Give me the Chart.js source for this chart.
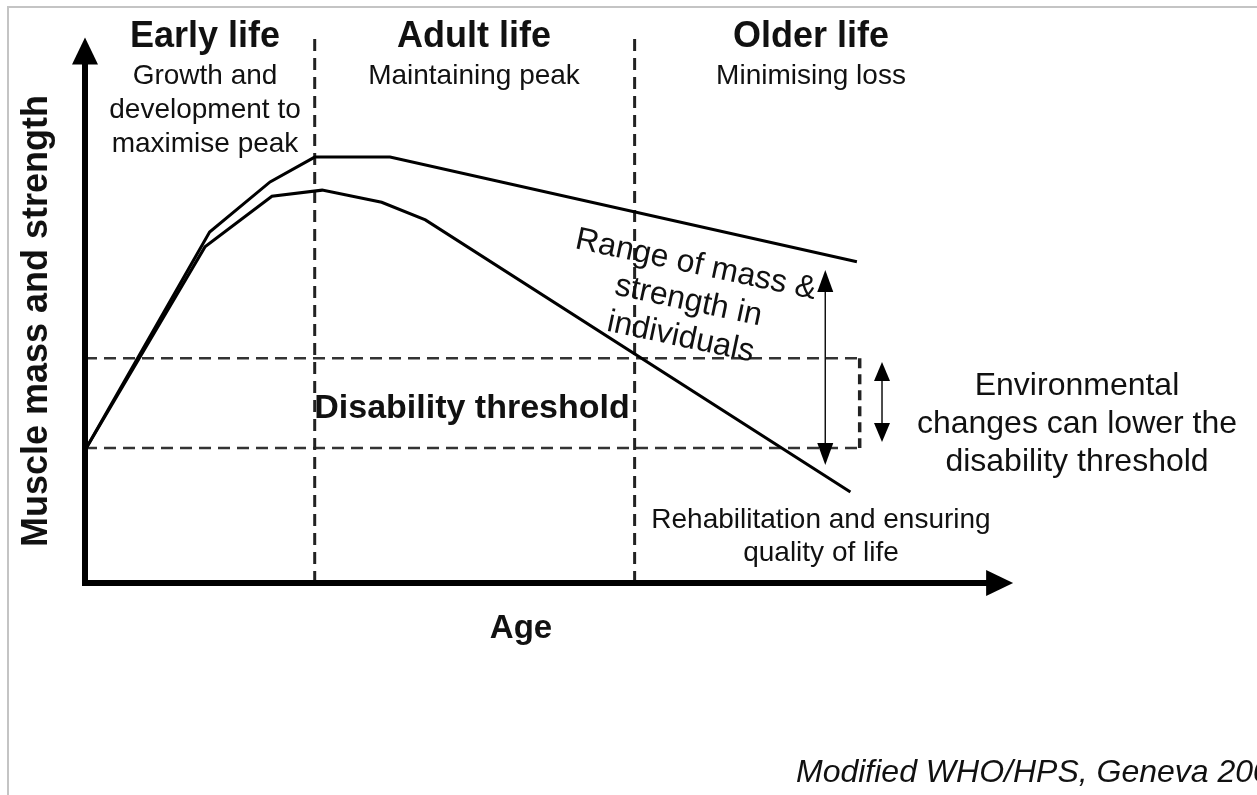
<!DOCTYPE html>
<html>
<head>
<meta charset="utf-8">
<script src="https://cdn.jsdelivr.net/npm/chart.js@4"></script>
<style>
  html, body { margin: 0; padding: 0; background: #fff; }
  canvas { display: block; }
</style>
</head>
<body>
<canvas id="chart" width="1257" height="795"></canvas>
<script>
// Age runs 0..100 along x, muscle mass & strength 0..100 up y (arbitrary units)
const upperAge = [0, 13.4, 19.9, 24.7, 32.8, 83.0];
const upperMass = [24.1, 63.7, 72.8, 77.3, 77.3, 58.3];
const lowerAge = [0, 12.9, 20.1, 25.5, 31.9, 36.6, 82.3];
const lowerMass = [24.1, 61.0, 70.2, 71.3, 69.1, 65.9, 16.5];

// stage boundaries (age) and disability threshold levels (mass)
const stageBounds = [24.7, 59.1];
const thresholdLevels = [40.8, 24.5];
const thresholdEnd = 83.3;

// double arrows: [age, from mass, to mass]
const rangeArrow = [79.6, 56.8, 21.4];
const envArrow = [85.7, 40.1, 25.6];

const stages = [
  { title: "Early life", lines: ["Growth and", "development to", "maximise peak"], x: 205 },
  { title: "Adult life", lines: ["Maintaining peak"], x: 474 },
  { title: "Older life", lines: ["Minimising loss"], x: 811 },
];

const toPoints = (xs, ys) => xs.map((x, i) => ({ x: x, y: ys[i] }));

const datasets = [
  { data: toPoints(upperAge, upperMass), borderColor: "#000", borderWidth: 3 },
  { data: toPoints(lowerAge, lowerMass), borderColor: "#000", borderWidth: 3 },
];
stageBounds.forEach((a) => {
  datasets.push({
    data: [{ x: a, y: 0 }, { x: a, y: 100 }],
    borderColor: "#222", borderWidth: 3, borderDash: [12, 7],
  });
});
thresholdLevels.forEach((m) => {
  datasets.push({
    data: [{ x: 0, y: m }, { x: thresholdEnd, y: m }],
    borderColor: "#333", borderWidth: 2.5, borderDash: [12, 7],
  });
});
datasets.push({
  data: [{ x: thresholdEnd, y: thresholdLevels[0] }, { x: thresholdEnd, y: thresholdLevels[1] }],
  borderColor: "#222", borderWidth: 3.5, borderDash: [10, 6],
});

function tri(ctx, ax, ay, bx, by, cx, cy) {
  ctx.beginPath();
  ctx.moveTo(ax, ay);
  ctx.lineTo(bx, by);
  ctx.lineTo(cx, cy);
  ctx.closePath();
  ctx.fill();
}

function doubleArrow(ctx, x, yTop, yBot, half, len, width) {
  ctx.strokeStyle = "#111";
  ctx.fillStyle = "#000";
  ctx.lineWidth = width;
  ctx.beginPath();
  ctx.moveTo(x, yTop + len - 2);
  ctx.lineTo(x, yBot - len + 2);
  ctx.stroke();
  tri(ctx, x, yTop, x - half, yTop + len, x + half, yTop + len);
  tri(ctx, x, yBot, x - half, yBot - len, x + half, yBot - len);
}

function label(ctx, str, x, y, font, align) {
  ctx.font = font;
  ctx.textAlign = align || "center";
  ctx.fillText(str, x, y);
}

const sketch = {
  id: "sketch",
  beforeDraw(chart) {
    const ctx = chart.ctx;
    ctx.save();
    ctx.fillStyle = "#fff";
    ctx.fillRect(0, 0, chart.width, chart.height);
    ctx.strokeStyle = "#c4c4c4";
    ctx.lineWidth = 2;
    ctx.beginPath();
    ctx.moveTo(8, chart.height);
    ctx.lineTo(8, 7);
    ctx.lineTo(chart.width, 7);
    ctx.stroke();
    ctx.restore();
  },
  afterDatasetsDraw(chart) {
    const ctx = chart.ctx;
    const xs = chart.scales.x;
    const ys = chart.scales.y;
    const x0 = xs.getPixelForValue(0);
    const y0 = ys.getPixelForValue(0);
    ctx.save();

    // axes with arrowheads
    ctx.strokeStyle = "#000";
    ctx.fillStyle = "#000";
    ctx.lineWidth = 6;
    ctx.beginPath();
    ctx.moveTo(x0, ys.getPixelForValue(95));
    ctx.lineTo(x0, y0);
    ctx.lineTo(xs.getPixelForValue(97), y0);
    ctx.stroke();
    const yTip = ys.getPixelForValue(99);
    tri(ctx, x0, yTip, x0 - 13, yTip + 27, x0 + 13, yTip + 27);
    const xTip = xs.getPixelForValue(99.8);
    tri(ctx, xTip, y0, xTip - 27, y0 - 13, xTip - 27, y0 + 13);

    // double arrows
    doubleArrow(ctx, xs.getPixelForValue(rangeArrow[0]),
      ys.getPixelForValue(rangeArrow[1]), ys.getPixelForValue(rangeArrow[2]), 8, 22, 1.5);
    doubleArrow(ctx, xs.getPixelForValue(envArrow[0]),
      ys.getPixelForValue(envArrow[1]), ys.getPixelForValue(envArrow[2]), 8, 19, 1.5);

    // stage headings
    ctx.fillStyle = "#111";
    ctx.textBaseline = "alphabetic";
    stages.forEach((s) => {
      label(ctx, s.title, s.x, 47, "bold 36px 'Liberation Sans', Arial, sans-serif");
      s.lines.forEach((l, i) => {
        label(ctx, l, s.x, 84 + i * 34, "28px 'Liberation Sans', Arial, sans-serif");
      });
    });

    label(ctx, "Disability threshold", 472, 418, "bold 34px 'Liberation Sans', Arial, sans-serif");

    ["Environmental", "changes can lower the", "disability threshold"].forEach((l, i) => {
      label(ctx, l, 1077, 395 + i * 38, "32px 'Liberation Sans', Arial, sans-serif");
    });

    ["Rehabilitation and ensuring", "quality of life"].forEach((l, i) => {
      label(ctx, l, 821, 528 + i * 33, "28px 'Liberation Sans', Arial, sans-serif");
    });

    label(ctx, "Age", 521, 638, "bold 33px 'Liberation Sans', Arial, sans-serif");

    label(ctx, "Modified WHO/HPS, Geneva 2001", 796, 782,
      "italic 32px 'Liberation Sans', Arial, sans-serif", "left");

    // rotated range text
    ctx.save();
    ctx.translate(696, 265);
    ctx.rotate((12 * Math.PI) / 180);
    ctx.textBaseline = "middle";
    ["Range of mass &", "strength in", "individuals"].forEach((l, i) => {
      label(ctx, l, 0, i * 37, "32px 'Liberation Sans', Arial, sans-serif");
    });
    ctx.restore();

    // y axis title
    ctx.save();
    ctx.translate(37, 321);
    ctx.rotate(-Math.PI / 2);
    ctx.textBaseline = "middle";
    label(ctx, "Muscle mass and strength", 0, 0, "bold 36px 'Liberation Sans', Arial, sans-serif");
    ctx.restore();

    ctx.restore();
  },
};

new Chart(document.getElementById("chart"), {
  type: "line",
  data: { datasets: datasets },
  options: {
    responsive: false,
    animation: false,
    events: [],
    layout: { padding: { left: 85, right: 242, top: 32, bottom: 212 } },
    elements: { point: { radius: 0 }, line: { tension: 0, fill: false } },
    datasets: { line: { clip: false } },
    scales: {
      x: { type: "linear", min: 0, max: 100, display: false },
      y: { type: "linear", min: 0, max: 100, display: false },
    },
    plugins: { legend: { display: false }, tooltip: { enabled: false } },
  },
  plugins: [sketch],
});
</script>
</body>
</html>
